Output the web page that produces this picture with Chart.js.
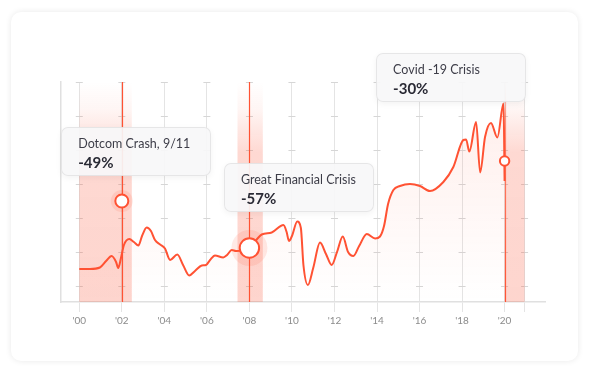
<!DOCTYPE html>
<html><head><meta charset="utf-8">
<script src="https://cdn.jsdelivr.net/npm/chart.js@4.4.1/dist/chart.umd.min.js"></script>
<style>
html,body{margin:0;padding:0;background:#fff;width:589px;height:373px;overflow:hidden;}
#card{position:absolute;left:11px;top:12px;width:567px;height:349px;border-radius:10px;background:#fff;box-shadow:0 0 6px rgba(0,0,0,0.09);}
#wrap{position:absolute;left:0;top:0;width:589px;height:373px;}
.tip{position:absolute;box-sizing:border-box;width:150px;height:49px;border-radius:7px;background:rgba(247,247,249,0.92);border:1px solid rgba(0,0,0,0.07);box-shadow:0 2px 6px rgba(0,0,0,0.05);padding:8px 0 0 16px;font-family:Lato,sans-serif;}
.tip .t{font-size:12.5px;color:#3d3d48;line-height:16px;white-space:nowrap;}
.tip .v{font-size:15px;font-weight:bold;color:#2a2a35;line-height:20px;}
</style></head><body>
<div id="card"></div>
<div id="wrap"><canvas id="c" width="589" height="373"></canvas></div>
<script>
// ---- data ----
const years = [2000.0,2000.5,2000.97,2001.26,2001.52,2001.73,2001.83,2001.96,2002.1,2002.35,2002.57,2002.78,2002.95,2003.17,2003.37,2003.56,2003.8,2004.03,2004.27,2004.61,2004.88,2005.17,2005.44,2005.76,2005.96,2006.15,2006.38,2006.77,2006.95,2007.17,2007.37,2008.0,2008.58,2009.05,2009.6,2009.75,2009.86,2010.0,2010.25,2010.42,2010.54,2010.75,2011.0,2011.32,2011.6,2011.87,2012.12,2012.39,2012.64,2012.89,2013.16,2013.52,2013.91,2014.14,2014.33,2014.52,2014.77,2015.08,2015.55,2016.02,2016.49,2017.12,2017.59,2018.06,2018.19,2018.34,2018.66,2018.85,2019.08,2019.36,2019.66,2019.95,2020.0];
const values = [17,17,18.5,25,30,24,18,28,41,47,44,40.5,50,58.5,55,46,41.5,37.5,26,31.5,21,10.5,15,20.5,21,26,30.5,28.5,31,36,35,38,51.5,53.5,61,54,45,50,64.5,58,21,1,18,43.5,32,21,34,49.5,34,30,40,52,47.5,49.5,60,82,96,100,102,100,95,104,119,146,146.5,134.5,164,113.5,149,163,148.5,182.5,105];
const tickYears = [2000,2002,2004,2006,2008,2010,2012,2014,2016,2018,2020];
const tickLabels = ["'00","'02","'04","'06","'08","'10","'12","'14","'16","'18","'20"];
const gridEndYear = 2020.94;
const yGridValues = [0,34,68,102,136,170,204];
const eventNames = ['Dotcom Crash, 9/11','Great Financial Crisis','Covid -19 Crisis'];
const eventDrops = ['-49%','-57%','-30%'];
const eventYears = [2002, 2008, 2020];
const eventMarkerValues = [85, 38, 125];
const bandStarts = [2000, 2007.44, 2020];
const bandEnds = [2002.47, 2008.63, 2020.94];

// ---- style / layout ----
const RED = '#ff5233';
const markerRadius = [6.5, 9.7, 4.7];
const haloRadius = [11, 18, 0];
const eventLineFade = [false, false, true];
const tipOffsets = [[-60.6,-73.7],[-25.5,-84.7],[-128.5,-107.7]];

const gridMarks = {
  id:'gridMarks',
  beforeDatasetsDraw(chart){
    const {ctx, chartArea:{top,bottom}, scales:{x,y}} = chart;
    ctx.save();
    ctx.strokeStyle = '#d6d6d6'; ctx.lineWidth = 1;
    const xs = tickYears.concat([gridEndYear]);
    xs.forEach(v=>{
      const px = x.getPixelForValue(v);
      yGridValues.forEach(g=>{
        const py = Math.round(y.getPixelForValue(g))+0.5;
        ctx.beginPath(); ctx.moveTo(px-3.5,py); ctx.lineTo(px+3.5,py); ctx.stroke();
      });
    });
    // bands
    bandStarts.forEach((s,i)=>{
      const x0 = x.getPixelForValue(s), x1 = x.getPixelForValue(bandEnds[i]);
      const g = ctx.createLinearGradient(0,top,0,bottom);
      g.addColorStop(0,'rgba(250,80,50,0)');
      g.addColorStop(0.12,'rgba(250,80,50,0.05)');
      g.addColorStop(0.32,'rgba(250,80,50,0.22)');
      g.addColorStop(1,'rgba(250,80,50,0.24)');
      ctx.fillStyle = g;
      ctx.fillRect(x0, top, x1-x0, bottom-top);
    });
    // event lines
    eventYears.forEach((v,i)=>{
      const px = Math.round(x.getPixelForValue(v))+0.5;
      if (eventLineFade[i]) {
        const g = ctx.createLinearGradient(0,top,0,bottom);
        g.addColorStop(0,'rgba(255,82,51,0.1)');
        g.addColorStop(0.15,'rgba(255,82,51,0.6)');
        g.addColorStop(1,'rgba(255,82,51,1)');
        ctx.strokeStyle = g;
      } else ctx.strokeStyle = RED;
      ctx.lineWidth = 1.2;
      ctx.beginPath(); ctx.moveTo(px, top); ctx.lineTo(px, bottom); ctx.stroke();
    });
    ctx.restore();
  }
};

const tipsPlugin = {
  id:'tips',
  afterRender(chart){
    if (chart._tipsDone) return; chart._tipsDone = true;
    const wrap = document.getElementById('wrap');
    const {x,y} = chart.scales;
    eventNames.forEach((n,i)=>{
      const d = document.createElement('div'); d.className='tip';
      const px = x.getPixelForValue(eventYears[i]), py = y.getPixelForValue(eventMarkerValues[i]);
      d.style.left = (px + tipOffsets[i][0]) + 'px';
      d.style.top = (py + tipOffsets[i][1]) + 'px';
      d.innerHTML = '<div class="t"></div><div class="v"></div>';
      d.querySelector('.t').textContent = n;
      d.querySelector('.v').textContent = eventDrops[i];
      wrap.appendChild(d);
    });
  }
};

const lineData = years.map((v,i)=>({x:v, y:values[i]}));
const markerData = eventYears.map((v,i)=>({x:v, y:eventMarkerValues[i]}));

new Chart(document.getElementById('c'), {
  type:'line',
  data:{datasets:[
    {data:markerData, showLine:false, order:0, pointRadius:markerRadius, pointBorderWidth:2, pointBackgroundColor:'#fff', pointBorderColor:RED},
    {data:markerData, showLine:false, order:1, pointRadius:haloRadius, pointBorderWidth:0, pointBackgroundColor:'rgba(255,82,51,0.12)', pointBorderColor:'rgba(0,0,0,0)'},
    {data:lineData, order:2, borderColor:RED, borderWidth:2, pointRadius:0, cubicInterpolationMode:'monotone', fill:'start',
     backgroundColor:(c)=>{ const ca=c.chart.chartArea; if(!ca) return 'rgba(0,0,0,0)';
       const g=c.chart.ctx.createLinearGradient(0,ca.top+20,0,ca.bottom);
       g.addColorStop(0,'rgba(255,90,60,0.10)'); g.addColorStop(1,'rgba(255,90,60,0.0)'); return g; }}
  ]},
  options:{
    responsive:false, animation:false, events:[],
    layout:{padding:{left:61,right:44,top:82,bottom:41}},
    plugins:{legend:{display:false}, tooltip:{enabled:false}},
    scales:{
      x:{type:'linear', min:1999.14, max:2021.9,
        afterBuildTicks:s=>{ s.ticks = tickYears.concat([gridEndYear]).map(v=>({value:v})); },
        ticks:{callback:(v,i)=> i<tickLabels.length ? tickLabels[i] : '', font:{family:'Lato', size:10}, color:'#8c8c8c', padding:3, maxRotation:0, autoSkip:false},
        grid:{color:'#e4e4e4', lineWidth:1, tickLength:10},
        border:{color:'#e0e0e0', width:1.5},
        afterFit:s=>{ s.height = 30; }
      },
      y:{min:-16, max:204,
        afterBuildTicks:s=>{ s.ticks = yGridValues.map(v=>({value:v})); },
        ticks:{display:false}, grid:{display:false},
        border:{color:'#e0e0e0', width:1.5},
        afterFit:s=>{ s.width = 0; }
      }
    }
  },
  plugins:[gridMarks, tipsPlugin]
});
</script>
</body></html>
